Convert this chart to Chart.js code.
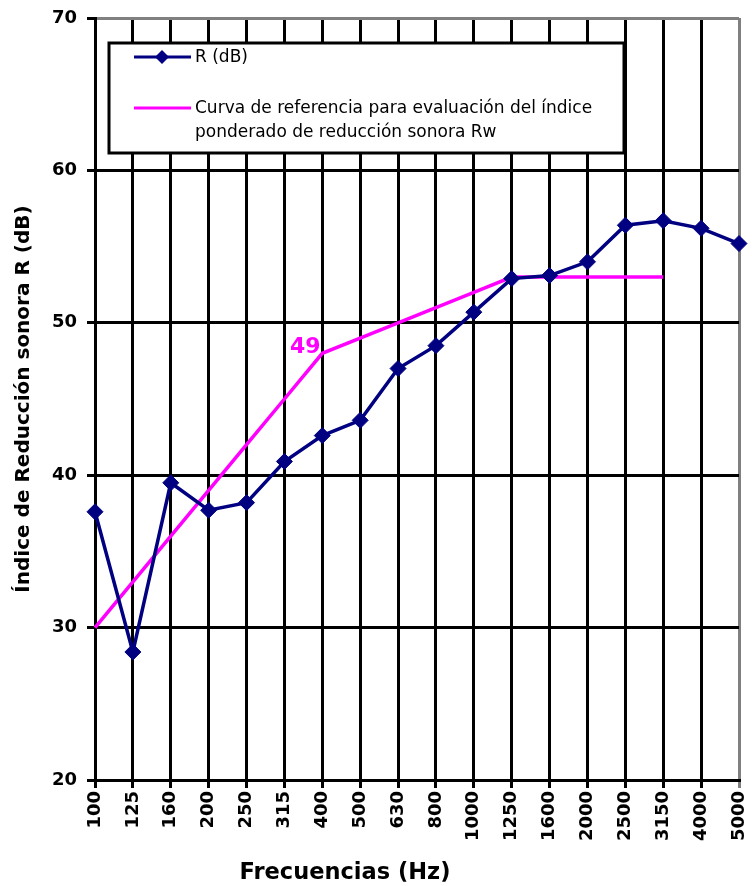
<!DOCTYPE html>
<html>
<head>
<meta charset="utf-8">
<script src="https://cdn.jsdelivr.net/npm/chart.js@4/dist/chart.umd.min.js"></script>
<style>
  html, body { margin: 0; padding: 0; background: #fff; }
  #wrap { width: 752px; height: 886px; position: relative; }
</style>
</head>
<body>
<div id="wrap"><canvas id="c" width="752" height="886"></canvas></div>
<script>
const frequencies = ['100', '125', '160', '200', '250', '315', '400', '500', '630', '800',
  '1000', '1250', '1600', '2000', '2500', '3150', '4000', '5000']
const rValues = [37.6, 28.4, 39.5, 37.7, 38.2, 40.9, 42.6, 43.6, 47.0, 48.5,
  50.7, 52.9, 53.1, 54.0, 56.4, 56.7, 56.2, 55.2]
const refCurve = [30, 33, 36, 39, 42, 45, 48, 49, 50, 51, 52, 53, 53, 53, 53, 53, null, null]
const rwLabel = '49'
const legendLabels = ['R (dB)', 'Curva de referencia para evaluación del índice', 'ponderado de reducción sonora Rw']
const xTitle = 'Frecuencias (Hz)'
const yTitle = 'Índice de Reducción sonora R (dB)'

const NAVY = '#000080'
const MAGENTA = '#ff00ff'
const FONT = '"DejaVu Sans", sans-serif'

// legend box, "49" label and x title drawn on top
const overlay = {
  id: 'overlay',
  afterDraw(chart) {
    const ctx = chart.ctx
    const x = chart.scales.x
    const y = chart.scales.y
    ctx.save()

    // Rw label
    ctx.fillStyle = MAGENTA
    ctx.font = 'bold 22px ' + FONT
    ctx.textAlign = 'center'
    ctx.textBaseline = 'middle'
    ctx.fillText(rwLabel, x.getPixelForValue(5.55), y.getPixelForValue(48.4))

    // x title, sits left of the plot centre like the original
    ctx.fillStyle = '#000'
    ctx.font = 'bold 22.5px ' + FONT
    ctx.fillText(xTitle, 345, 873)

    // legend
    const lx = 109, ly = 43, lw = 515, lh = 110
    ctx.fillStyle = '#fff'
    ctx.fillRect(lx, ly, lw, lh)
    ctx.strokeStyle = '#000'
    ctx.lineWidth = 3
    ctx.strokeRect(lx, ly, lw, lh)

    ctx.strokeStyle = NAVY
    ctx.beginPath(); ctx.moveTo(134, 57); ctx.lineTo(191, 57); ctx.stroke()
    ctx.fillStyle = NAVY
    ctx.beginPath()
    ctx.moveTo(162, 50); ctx.lineTo(169, 57); ctx.lineTo(162, 64); ctx.lineTo(155, 57)
    ctx.closePath(); ctx.fill()

    ctx.strokeStyle = MAGENTA
    ctx.beginPath(); ctx.moveTo(134, 108); ctx.lineTo(191, 108); ctx.stroke()

    ctx.fillStyle = '#000'
    ctx.font = '17px ' + FONT
    ctx.textAlign = 'left'
    ctx.fillText(legendLabels[0], 195, 58)
    ctx.fillText(legendLabels[1], 195, 109)
    ctx.fillText(legendLabels[2], 195, 133)
    ctx.restore()
  }
}

new Chart(document.getElementById('c'), {
  type: 'line',
  data: {
    labels: frequencies,
    datasets: [
      {
        label: legendLabels[0],
        data: rValues,
        borderColor: NAVY,
        backgroundColor: NAVY,
        borderWidth: 3.5,
        pointStyle: 'rectRot',
        pointRadius: 8,
        pointBorderWidth: 1,
        tension: 0
      },
      {
        label: 'Curva de referencia',
        data: refCurve,
        borderColor: MAGENTA,
        borderWidth: 3.5,
        pointRadius: 0,
        tension: 0,
        spanGaps: false
      }
    ]
  },
  options: {
    responsive: false,
    animation: false,
    layout: { padding: { top: 18, right: 13, left: 0, bottom: 0 } },
    plugins: {
      legend: { display: false },
      tooltip: { enabled: false }
    },
    scales: {
      x: {
        offset: false,
        afterFit: s => { s.height = 106; s.paddingLeft = 0; s.paddingRight = 0 },
        grid: {
          color: ctx => ctx.index === frequencies.length - 1 ? '#808080' : '#000',
          lineWidth: 3,
          tickLength: 8
        },
        border: { color: '#000', width: 3 },
        ticks: {
          autoSkip: false,
          minRotation: 90,
          maxRotation: 90,
          padding: 3,
          color: '#000',
          font: { family: FONT, size: 18, weight: 'bold' }
        }
      },
      y: {
        min: 20,
        max: 70,
        afterFit: s => { s.width = 95; s.paddingTop = 0; s.paddingBottom = 0 },
        grid: {
          color: ctx => ctx.tick && ctx.tick.value === 70 ? '#808080' : '#000',
          lineWidth: 3,
          tickLength: 8,
          tickColor: '#000'
        },
        border: { color: '#000', width: 3 },
        ticks: {
          stepSize: 10,
          padding: 10,
          color: '#000',
          font: { family: FONT, size: 18, weight: 'bold' }
        },
        title: {
          display: true,
          text: yTitle,
          color: '#000',
          font: { family: FONT, size: 20, weight: 'bold' },
          padding: { top: 12, bottom: 0 }
        }
      }
    }
  },
  plugins: [overlay]
})
</script>
</body>
</html>
